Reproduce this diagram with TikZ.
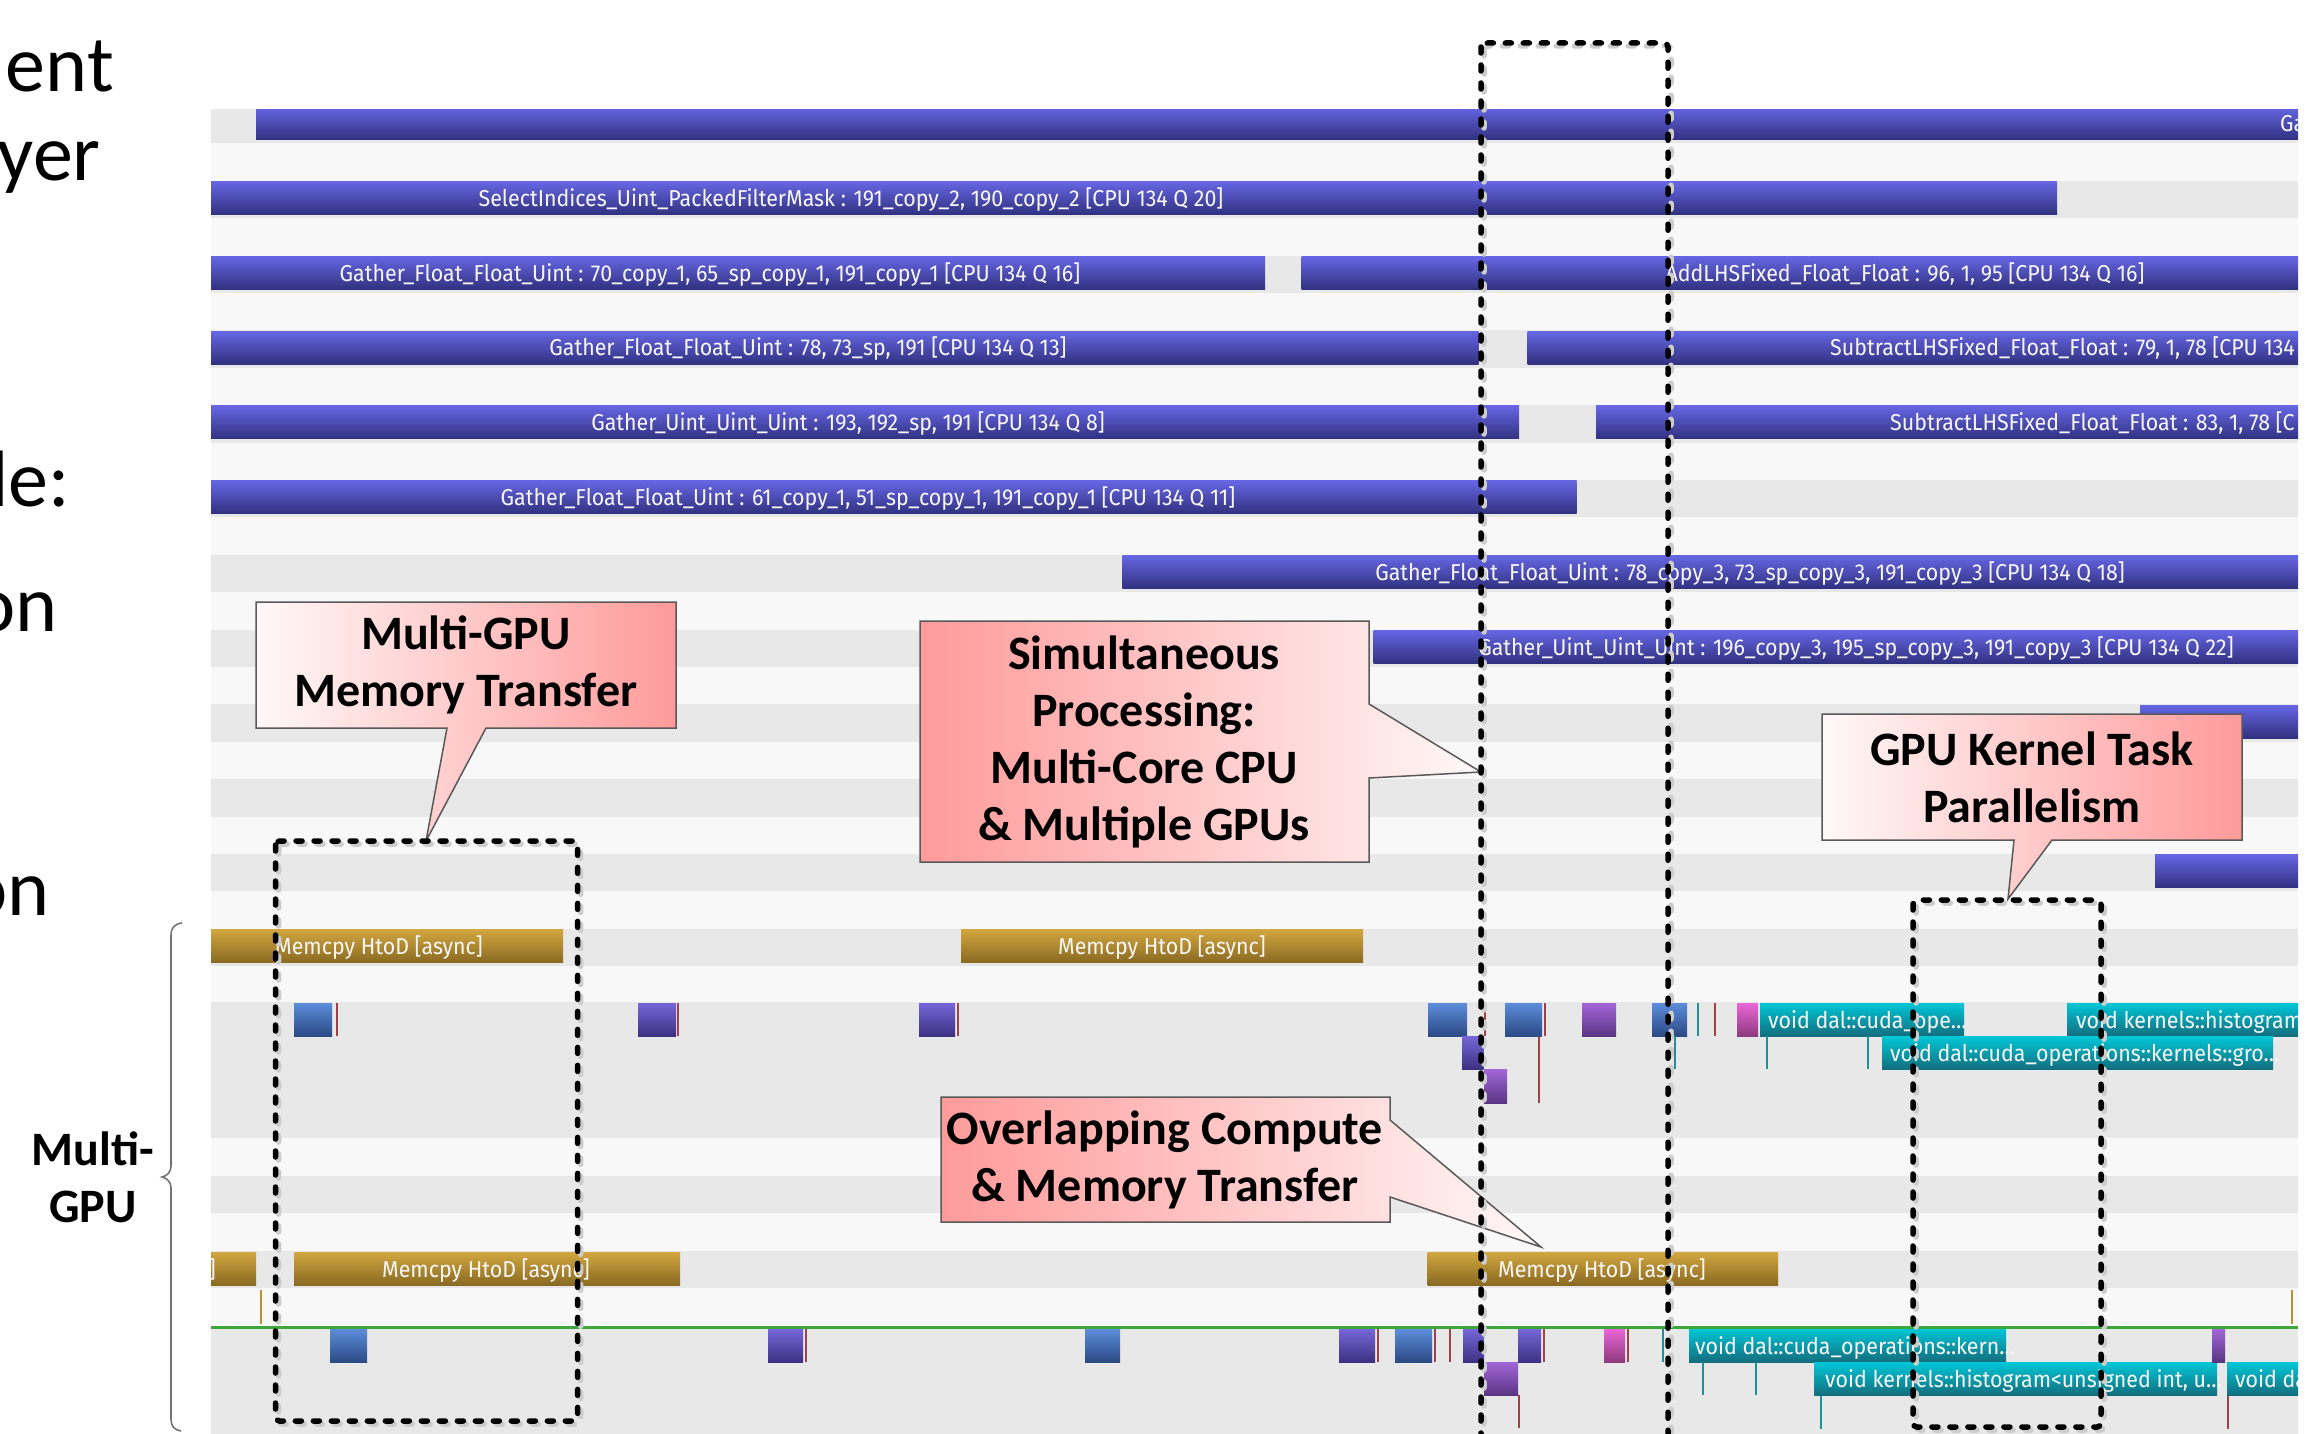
\documentclass[tikz,border=0pt]{standalone}
\usepackage{fontspec}
\setmainfont{Carlito}
\newfontfamily\tlfont[FakeStretch=0.93]{Fira Sans}
\definecolor{bgL}{HTML}{F8F8F8}
\definecolor{bgD}{HTML}{E8E8E8}
\definecolor{cpuT}{HTML}{6666E4}
\definecolor{cpuB}{HTML}{313180}
\definecolor{memT}{HTML}{D2A740}
\definecolor{memB}{HTML}{8A6A22}
\definecolor{kbT}{HTML}{5C8DDA}
\definecolor{kbB}{HTML}{2C4A85}
\definecolor{kpT}{HTML}{7766D8}
\definecolor{kpB}{HTML}{3D3182}
\definecolor{kvT}{HTML}{A266D8}
\definecolor{kvB}{HTML}{5B3585}
\definecolor{kmT}{HTML}{EA66D8}
\definecolor{kmB}{HTML}{8E3A7E}
\definecolor{ktT}{HTML}{00C6D6}
\definecolor{ktB}{HTML}{136E7E}
\definecolor{lnR}{HTML}{A0404E}
\definecolor{lnT}{HTML}{1F8F98}
\definecolor{lnG}{HTML}{B8922E}
\definecolor{salmon}{HTML}{FF9A9A}
\definecolor{pinkw}{HTML}{FFF8F8}
\definecolor{gline}{HTML}{3CA83C}
\begin{document}
\begin{tikzpicture}[x=1pt,y=-1pt,
  cpubar/.style={top color=cpuT, bottom color=cpuB, draw=none},
  membar/.style={top color=memT, bottom color=memB, draw=none},
  kblue/.style={top color=kbT, bottom color=kbB, draw=none},
  kpur/.style={top color=kpT, bottom color=kpB, draw=none},
  kvio/.style={top color=kvT, bottom color=kvB, draw=none},
  kmag/.style={top color=kmT, bottom color=kmB, draw=none},
  kteal/.style={top color=ktT, bottom color=ktB, draw=none},
  tl/.style={font=\tlfont\fontsize{23}{25}\selectfont, text=white!94!gray, inner sep=0pt, anchor=base},
  tlw/.style={tl, anchor=base west},
  redln/.style={draw=lnR, line width=2},
  tealln/.style={draw=lnT, line width=2},
  goldln/.style={draw=lnG, line width=2},
  callout/.style={draw=black!65, line width=1.5},
  ctext/.style={font=\fontsize{48}{57}\selectfont\bfseries, align=center, inner sep=0pt},
  bigtext/.style={font=\fontsize{80}{90}\selectfont, inner sep=0pt, anchor=base east},
  dbox/.style={draw=black, line width=5.5, dash pattern=on 6 off 12, line cap=round, rounded corners=4},
  dshadow/.style={draw=black!20, line width=5.5, dash pattern=on 6 off 12, line cap=round, rounded corners=4}
]
\useasboundingbox (0,0) rectangle (2311,1434);
\fill[white] (0,0) rectangle (2311,1434);

% left slide text (cut off at the left edge, as in the source slide)
\node[bigtext] (t1) at (114,92) {ent};
\node[bigtext] (t2) at (101,181) {yer};
\node[bigtext] (t3) at (70,506) {le:};
\node[bigtext] (t4) at (58,631) {on};
\node[bigtext] (t5) at (50,915) {on};

% brace and Multi-GPU label
\draw[black!55, line width=1.6] (182,923) .. controls (174,924) and (171,928) .. (171,936) -- (171,1166) .. controls (171,1172) and (167,1176) .. (162,1177) .. controls (167,1178) and (171,1182) .. (171,1188) -- (171,1419) .. controls (171,1426) and (174,1430) .. (181,1431);
\node[ctext] (mg) at (93,1177) {Multi-\\GPU};

\begin{scope}
\clip (211,110) rectangle (2298,1434);
\fill[bgL] (211,100) rectangle (2298,1434);
\foreach \k in {0,...,11} {\fill[bgD] (211,{106+74.8*\k}) rectangle (2298,{106+74.8*\k+37.4});}
\fill[bgD] (211,1002) rectangle (2298,1138);
\fill[bgD] (211,1176) rectangle (2298,1213);
\fill[bgD] (211,1251) rectangle (2298,1288);
\fill[bgD] (211,1328) rectangle (2298,1434);

% CPU bars
\newcommand\cbar[3]{\path[cpubar] (#2,{106+74.8*#1+0.7}) rectangle (#3,{106+74.8*#1+33.7});}
\newcommand\cbase[1]{{106+74.8*#1+25.5}}
\cbar{0}{256}{2298}
\node[tlw] (l0) at (2280,{106+25.5}) {Ga};
\cbar{1}{211}{2057}
\node[tl] (l1) at (851,\cbase{1}) {SelectIndices\_Uint\_PackedFilterMask : 191\_copy\_2, 190\_copy\_2 [CPU 134 Q 20]};
\cbar{2}{211}{1265}
\cbar{2}{1301.5}{2298}
\node[tl] (l2a) at (710,\cbase{2}) {Gather\_Float\_Float\_Uint : 70\_copy\_1, 65\_sp\_copy\_1, 191\_copy\_1 [CPU 134 Q 16]};
\node[tl] (l2b) at (1905,\cbase{2}) {AddLHSFixed\_Float\_Float : 96, 1, 95 [CPU 134 Q 16]};
\cbar{3}{211}{1478.6}
\cbar{3}{1527.5}{2298}
\node[tl] (l3a) at (808,\cbase{3}) {Gather\_Float\_Float\_Uint : 78, 73\_sp, 191 [CPU 134 Q 13]};
\node[tlw] (l3b) at (1830,\cbase{3}) {SubtractLHSFixed\_Float\_Float : 79, 1, 78 [CPU 134};
\cbar{4}{211}{1519}
\cbar{4}{1596}{2298}
\node[tl] (l4a) at (848,\cbase{4}) {Gather\_Uint\_Uint\_Uint : 193, 192\_sp, 191 [CPU 134 Q 8]};
\node[tlw] (l4b) at (1890,\cbase{4}) {SubtractLHSFixed\_Float\_Float : 83, 1, 78 [C};
\cbar{5}{211}{1576.5}
\node[tl] (l5) at (868,\cbase{5}) {Gather\_Float\_Float\_Uint : 61\_copy\_1, 51\_sp\_copy\_1, 191\_copy\_1 [CPU 134 Q 11]};
\cbar{6}{1122.4}{2298}
\node[tl] (l6) at (1750,\cbase{6}) {Gather\_Float\_Float\_Uint : 78\_copy\_3, 73\_sp\_copy\_3, 191\_copy\_3 [CPU 134 Q 18]};
\cbar{7}{1373.5}{2298}
\node[tl] (l7) at (1856,\cbase{7}) {Gather\_Uint\_Uint\_Uint : 196\_copy\_3, 195\_sp\_copy\_3, 191\_copy\_3 [CPU 134 Q 22]};
\cbar{8}{2140}{2298}
\cbar{10}{2155}{2298}

% memcpy row GPU 1
\path[membar] (211,929.5) rectangle (563,962.5);
\node[tl] (m1) at (379,954) {Memcpy HtoD [async]};
\path[membar] (961,929.5) rectangle (1363,962.5);
\node[tl] (m2) at (1162,954) {Memcpy HtoD [async]};

% kernels GPU 1
\newcommand\kb[5]{\path[#5] (#1,#3) rectangle (#2,#4);}
\kb{294}{332}{1003}{1036}{kblue}
\draw[redln] (337,1003) -- (337,1036);
\kb{638}{676}{1003}{1036}{kpur}
\draw[redln] (678,1003) -- (678,1036);
\kb{919}{955}{1003}{1036}{kpur}
\draw[redln] (958,1003) -- (958,1036);
\kb{1428}{1467}{1003}{1036}{kblue}
\draw[redln] (1485,1003) -- (1485,1036);
\kb{1462}{1483.5}{1036}{1069}{kpur}
\kb{1484}{1507}{1069.5}{1103}{kvio}
\kb{1505}{1542}{1003}{1036}{kblue}
\draw[redln] (1545,1003) -- (1545,1036);
\draw[redln] (1539,1036) -- (1539,1103);
\kb{1582}{1616}{1003}{1036}{kvio}
\kb{1652}{1687}{1003}{1036}{kblue}
\draw[tealln] (1675,1036) -- (1675,1069);
\draw[tealln] (1698,1003) -- (1698,1036);
\draw[redln] (1715,1003) -- (1715,1036);
\kb{1737}{1758}{1003}{1036}{kmag}
\kb{1760}{1964}{1003}{1036}{kteal}
\node[tlw] (k1) at (1768,1028) {void dal::cuda\_ope…};
\draw[tealln] (1767,1036) -- (1767,1069);
\draw[tealln] (1868,1036) -- (1868,1069);
\kb{2067}{2298}{1003}{1036}{kteal}
\node[tlw] (k2) at (2076,1028) {void kernels::histogram<};
\kb{1882}{2273}{1036.5}{1069.5}{kteal}
\node[tlw] (k3) at (1890,1061.5) {void dal::cuda\_operations::kernels::gro…};

% memcpy row GPU 2
\path[membar] (211,1252) rectangle (256,1285);
\node[tl, anchor=base east] (m3) at (216,1277) {]};
\path[membar] (294,1252) rectangle (680,1285);
\node[tl] (m4) at (486,1277) {Memcpy HtoD [async]};
\path[membar] (1427.5,1252) rectangle (1778,1285);
\node[tl] (m5) at (1602,1277) {Memcpy HtoD [async]};
\draw[goldln] (261,1290) -- (261,1324);
\draw[goldln] (2292,1290) -- (2292,1324);
\draw[gline, line width=3] (211,1327) -- (2298,1327);

% kernels GPU 2
\kb{330}{367}{1329}{1362}{kblue}
\kb{768}{803}{1329}{1362}{kpur}
\draw[redln] (806,1329) -- (806,1362);
\kb{1085}{1120}{1329}{1362}{kblue}
\kb{1339}{1375}{1329}{1362}{kpur}
\draw[redln] (1378,1329) -- (1378,1362);
\kb{1395}{1432}{1329}{1362}{kblue}
\draw[redln] (1435,1329) -- (1435,1362);
\draw[redln] (1450,1329) -- (1450,1362);
\kb{1463}{1484}{1329}{1362}{kpur}
\kb{1484}{1518}{1362}{1395}{kvio}
\draw[redln] (1519,1395) -- (1519,1428);
\kb{1518}{1541}{1329}{1362}{kpur}
\draw[redln] (1544,1329) -- (1544,1362);
\kb{1604}{1625}{1329}{1362}{kmag}
\draw[redln] (1628,1329) -- (1628,1362);
\draw[tealln] (1663,1329) -- (1663,1362);
\kb{1689}{2006}{1329}{1362}{kteal}
\node[tlw] (k4) at (1695,1354) {void dal::cuda\_operations::kern…};
\draw[tealln] (1703,1362) -- (1703,1395);
\draw[tealln] (1756,1362) -- (1756,1395);
\kb{1814}{2217}{1362.5}{1395.5}{kteal}
\node[tlw] (k5) at (1825,1387.5) {void kernels::histogram<unsigned int, u…};
\draw[tealln] (1821,1396) -- (1821,1429);
\kb{2212}{2225}{1329}{1362}{kvio}
\kb{2227}{2298}{1362.5}{1395.5}{kteal}
\node[tlw] (k6) at (2235,1387.5) {void da};
\draw[redln] (2228,1396) -- (2228,1429);
\end{scope}

% callouts
\path[callout, left color=pinkw, right color=salmon] (256,602) -- (676,602) -- (676,728) -- (486,728) -- (426,841) -- (447,728) -- (256,728) -- cycle;
\node[ctext] (cA) at (466,665) {Multi-GPU\\Memory Transfer};
\path[callout, left color=salmon, right color=pinkw] (920,621) -- (1369,621) -- (1369,704) -- (1481,772) -- (1369,778) -- (1369,862) -- (920,862) -- cycle;
\node[ctext] (cB) at (1144,742) {Simultaneous\\Processing:\\Multi-Core CPU\\\& Multiple GPUs};
\path[callout, left color=pinkw, right color=salmon] (1822,714) -- (2242,714) -- (2242,840) -- (2052,840) -- (2008,899) -- (2014,840) -- (1822,840) -- cycle;
\node[ctext] (cC) at (2032,777) {GPU Kernel Task\\Parallelism};
\path[callout, left color=salmon, right color=pinkw] (941,1097) -- (1390,1097) -- (1390,1120) -- (1541,1247) -- (1390,1197) -- (1390,1222) -- (941,1222) -- cycle;
\node[ctext] (cD) at (1165,1160) {Overlapping Compute\\\& Memory Transfer};

% dashed boxes
\draw[dshadow] (278.5,844) rectangle (580.6,1424);
\draw[dshadow] (1484,46) rectangle (1671,1460);
\draw[dshadow] (1916,903) rectangle (2104,1430);
\draw[dbox] (275.5,841) rectangle (577.6,1421);
\draw[dbox] (1481,43) rectangle (1668,1460);
\draw[dbox] (1913,900) rectangle (2101,1427);
\end{tikzpicture}
\end{document}
